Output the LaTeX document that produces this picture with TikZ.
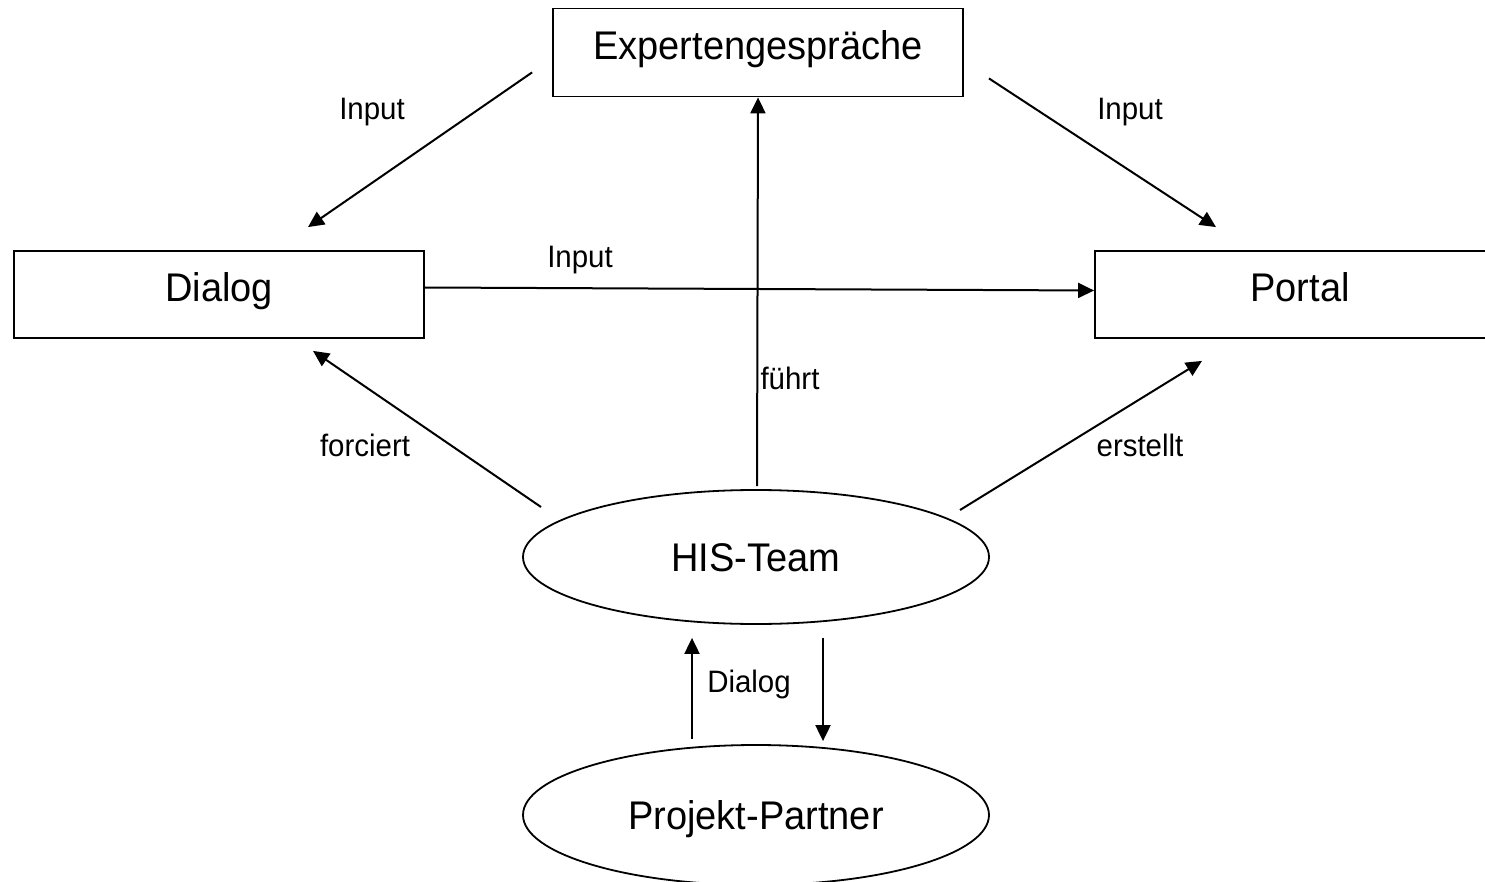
\documentclass[tikz,border=0pt]{standalone}
\usepackage{fontspec}
\setmainfont{Liberation Sans}[FakeStretch=0.95]
\usetikzlibrary{shapes.geometric,arrows.meta,calc}
\begin{document}
\begin{tikzpicture}[x=1pt,y=-1pt,
  boxnode/.style={draw,line width=1.8pt,minimum width=410pt,minimum height=88pt,inner sep=0pt,text height=28.6pt,text depth=15pt,font=\fontsize{40}{46}\selectfont},
  ovalnode/.style={draw,ellipse,line width=1.8pt,minimum width=466pt,inner sep=0pt,text height=28.6pt,text depth=0pt,font=\fontsize{40}{46}\selectfont},
  lbl/.style={inner sep=0pt,font=\fontsize{31}{36}\selectfont},
  conn/.style={line width=2pt,-{Triangle[length=16pt,width=15pt]}}]
\useasboundingbox (0,0) rectangle (1485,882);
\begin{scope}
\clip (0,0) rectangle (1485,882);
\node[boxnode] (expert) at (758,52.5) {Expertengespräche};
\node[boxnode,minimum height=87pt] (dialog) at (219,294.5) {Dialog};
\node[boxnode,minimum height=87pt] (portal) at (1300,294.5) {Portal};
\node[ovalnode,minimum height=134pt] (his) at (756,557) {HIS-Team};
\node[ovalnode,minimum height=140pt] (partner) at (756,815) {Projekt-Partner};
\end{scope}

\draw[conn] ($(expert.south west)+(-20,-25)$) -- ($(dialog.north)+(89,-23)$);
\draw[conn] ($(expert.south east)+(25,-19)$) -- ($(portal.north)+(-84,-23)$);
\draw[conn] ($(dialog.east)+(0,-7)$) -- ($(portal.west)+(0,-4)$);
\draw[conn] ($(his.north)+(1,-3)$) -- ($(expert.south)+(0,0)$);
\draw[conn] ($(his.center)+(-215,-50)$) -- ($(dialog.south)+(94,12)$);
\draw[conn] ($(his.center)+(204,-47)$) -- ($(portal.south)+(-98,22)$);
\draw[conn] ($(partner.north)+(-64,-5)$) -- ($(his.south)+(-64,13)$);
\draw[conn] ($(his.south)+(67,13)$) -- ($(partner.north)+(67,-3)$);

\node[lbl] (l1) at (372,112) {Input};
\node[lbl] (l2) at (1130,112) {Input};
\node[lbl] (l3) at (580,260) {Input};
\node[lbl] (l4) at (790,378) {führt};
\node[lbl] (l5) at (365,445) {forciert};
\node[lbl] (l6) at (1140,445) {erstellt};
\node[lbl] (l7) at (749,684) {Dialog};
\end{tikzpicture}
\end{document}
